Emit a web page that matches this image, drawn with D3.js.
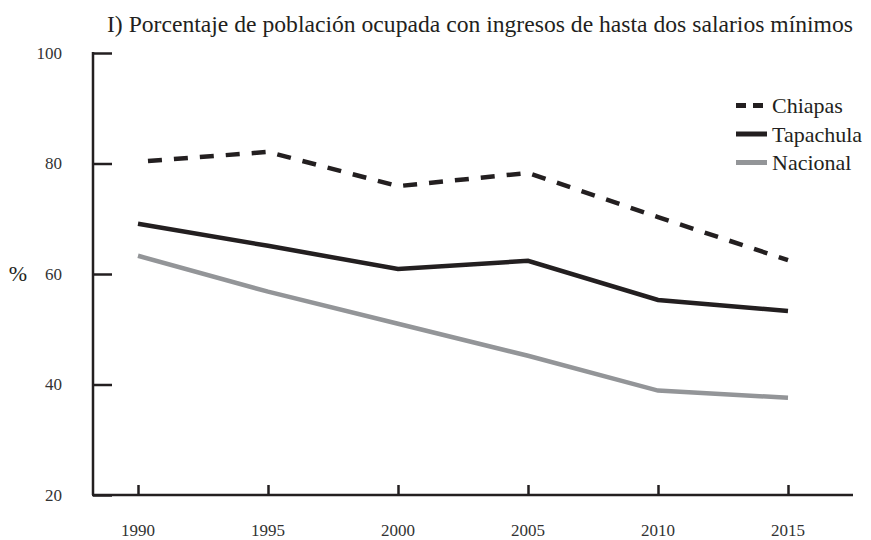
<!DOCTYPE html>
<html lang="es">
<head>
<meta charset="UTF-8">
<title>Porcentaje de población ocupada</title>
<style>
  body { margin: 0; background: #fff; }
  text { font-family: "Liberation Serif", "DejaVu Serif", serif; fill: #231f20; }
</style>
</head>
<body>
<svg width="871" height="540"></svg>
<script src="https://d3js.org/d3.v7.min.js"></script>
<script>
// data
const years = [1990, 1995, 2000, 2005, 2010, 2015];
const chiapas = [80.3, 82.1, 75.9, 78.3, 70.3, 62.5];
const tapachula = [69.1, 65.1, 60.9, 62.4, 55.3, 53.3];
const nacional = [63.3, 56.8, 51.0, 45.2, 38.9, 37.6];
const yTicks = [20, 40, 60, 80, 100];

const series = [
  { name: "Chiapas", values: chiapas, color: "#231f20", dash: "14,12" },
  { name: "Tapachula", values: tapachula, color: "#231f20", dash: null },
  { name: "Nacional", values: nacional, color: "#939598", dash: null }
];

const svg = d3.select("svg");
const mLeft = 93, mRight = 853, mTop = 53, mBottom = 495;

const x = d3.scaleLinear().domain([1990, 2015]).range([138, 788]);
const y = d3.scaleLinear().domain([20, 100]).range([mBottom, mTop]);

// title
svg.append("text")
  .attr("x", 107).attr("y", 32)
  .attr("textLength", 746)
  .attr("lengthAdjust", "spacingAndGlyphs")
  .style("font-size", "24px")
  .text("I) Porcentaje de población ocupada con ingresos de hasta dos salarios mínimos");

// y axis
const yAxis = svg.append("g").attr("transform", "translate(" + mLeft + ",0)")
  .call(d3.axisRight(y).tickValues(yTicks).tickSize(19).tickFormat(""));
yAxis.select(".domain").remove();
yAxis.selectAll("line").attr("stroke", "#231f20").attr("stroke-width", 2.5);
svg.append("line").attr("x1", mLeft).attr("x2", mLeft).attr("y1", mTop - 1).attr("y2", mBottom)
  .attr("stroke", "#231f20").attr("stroke-width", 2.5);
yTicks.forEach(function(t) {
  svg.append("text").attr("x", 62).attr("y", y(t) + 5.5)
    .attr("text-anchor", "end").style("font-size", "17px").style("fill", "#333").text(t);
});
svg.append("text").attr("x", 18).attr("y", y(60) + 7)
  .attr("text-anchor", "middle").style("font-size", "22px").text("%");

// x axis
const xAxis = svg.append("g").attr("transform", "translate(0," + mBottom + ")")
  .call(d3.axisTop(x).tickValues(years).tickSize(10).tickFormat(""));
xAxis.select(".domain").remove();
xAxis.selectAll("line").attr("stroke", "#231f20").attr("stroke-width", 2.5);
svg.append("line").attr("x1", mLeft - 1).attr("x2", mRight).attr("y1", mBottom).attr("y2", mBottom)
  .attr("stroke", "#231f20").attr("stroke-width", 2.5);
years.forEach(function(yr) {
  svg.append("text").attr("x", x(yr)).attr("y", 536)
    .attr("text-anchor", "middle").style("font-size", "17px").style("fill", "#333").text(yr);
});

// lines
const line = d3.line().x(function(d, i) { return x(years[i]); }).y(function(d) { return y(d); });
series.slice().reverse().forEach(function(s) {
  svg.append("path").datum(s.values)
    .attr("d", line)
    .attr("fill", "none")
    .attr("stroke", s.color)
    .attr("stroke-width", 4.5)
    .attr("stroke-dasharray", s.dash)
    .attr("stroke-dashoffset", s.dash ? 16 : null);
});

// legend
series.forEach(function(s, i) {
  const ly = 105.5 + i * 28.5;
  svg.append("line").attr("x1", 736).attr("x2", 767).attr("y1", ly).attr("y2", ly)
    .attr("stroke", s.color).attr("stroke-width", 5)
    .attr("stroke-dasharray", s.dash ? "10,7" : null);
  svg.append("text").attr("x", 772).attr("y", ly + 7.5)
    .style("font-size", "22px").text(s.name);
});
</script>
</body>
</html>
